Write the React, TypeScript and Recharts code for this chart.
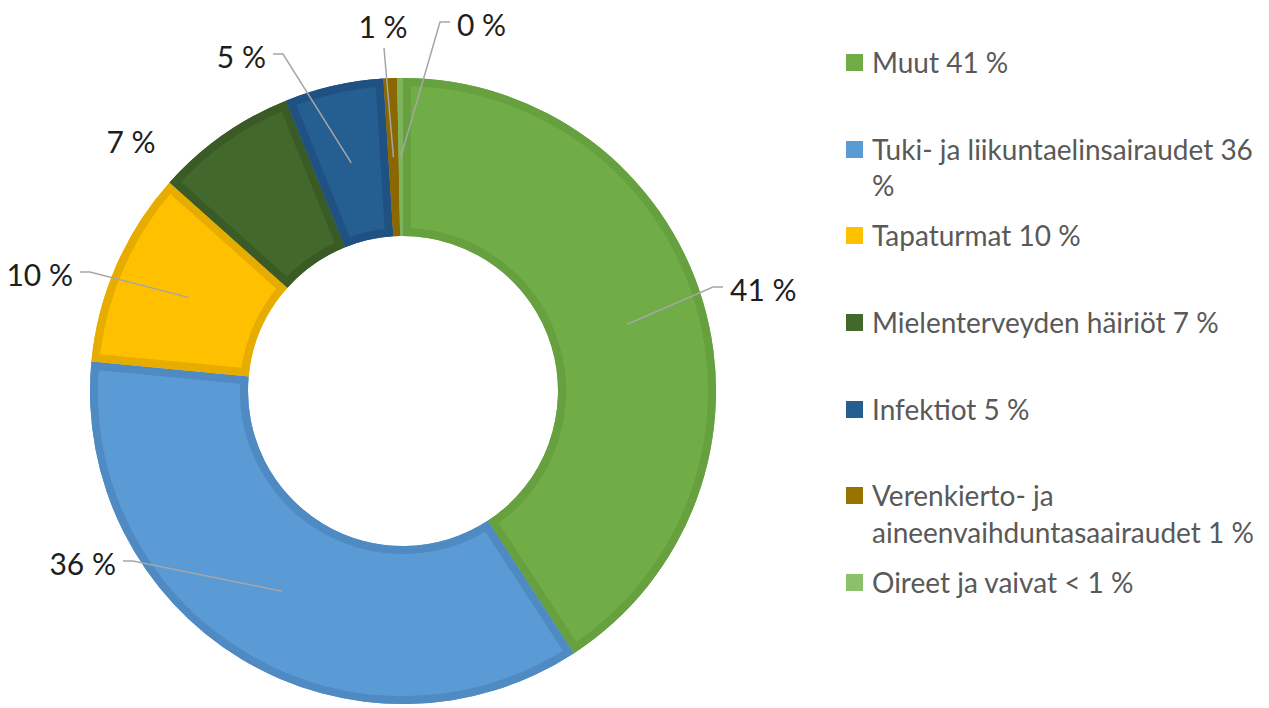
import { PieChart, Pie, Cell, Legend, Sector } from 'recharts';

const CATEGORIES = [
  'Muut',
  'Tuki- ja liikuntaelinsairaudet',
  'Tapaturmat',
  'Mielenterveyden häiriöt',
  'Infektiot',
  'Verenkierto- ja aineenvaihduntasaairaudet',
  'Oireet ja vaivat',
];
const SHARES = [40.8, 35.7, 10.1, 7.3, 5.1, 0.7, 0.3];

const FILLS = ['#70AD47', '#5B9BD5', '#FFC000', '#43682B', '#255E91', '#997300', '#8CC16C'];
const BORDERS = ['#66A03F', '#4F8AC3', '#E6AC00', '#3A5B25', '#1F5183', '#8A6700', '#7DB45C'];

// label elbow, relative to pie centre, and which side the text sits on
const LABEL_LAYOUT: [number, number, string][] = [
  [310, -104, 'right'],
  [-270, 170, 'left'],
  [-313, -119, 'left'],
  [-272, -250, 'none'],
  [-120, -337, 'left'],
  [-19, -343, 'up'],
  [37, -369, 'right'],
];

const FONT = 'Lato, "Open Sans", sans-serif';
const RAD = Math.PI / 180;

const data = CATEGORIES.map((name, i) => ({ name, value: SHARES[i] }));

const pctText = (v: number) => `${Math.round(v)} %`;
const legendPct = (v: number) => (v < 0.5 ? '< 1 %' : pctText(v));

function renderLabel(p: any) {
  const { cx, cy, innerRadius, outerRadius, startAngle, endAngle, midAngle, index, value } = p;
  const [ex, ey, side] = LABEL_LAYOUT[index];
  const mr = (innerRadius + outerRadius) / 2;
  const sx = cx + mr * Math.cos(-midAngle * RAD);
  const sy = cy + mr * Math.sin(-midAngle * RAD);
  const bx = cx + ex;
  const by = cy + ey;
  const clipId = `slice-clip-${index}`;

  let line = null;
  let text = null;
  const textProps = { fontFamily: FONT, fontSize: 30, fill: '#1e1e1e' };
  if (side === 'right' || side === 'left') {
    const dir = side === 'right' ? 1 : -1;
    const hx = bx + dir * 10;
    line = (
      <polyline
        points={`${sx},${sy} ${bx},${by} ${hx},${by}`}
        fill="none"
        stroke="#A6A6A6"
        strokeWidth={1.5}
      />
    );
    text = (
      <text
        x={hx + dir * 7}
        y={by + 2}
        textAnchor={side === 'right' ? 'start' : 'end'}
        dominantBaseline="central"
        {...textProps}
      >
        {pctText(value)}
      </text>
    );
  } else if (side === 'up') {
    line = <polyline points={`${sx},${sy} ${bx},${by}`} fill="none" stroke="#A6A6A6" strokeWidth={1.5} />;
    text = (
      <text x={bx - 1} y={by - 22} textAnchor="middle" dominantBaseline="central" {...textProps}>
        {pctText(value)}
      </text>
    );
  } else {
    text = (
      <text x={bx} y={by} textAnchor="middle" dominantBaseline="central" {...textProps}>
        {pctText(value)}
      </text>
    );
  }

  return (
    <g key={`lbl-${index}`}>
      <defs>
        <clipPath id={clipId}>
          <Sector
            cx={cx}
            cy={cy}
            innerRadius={innerRadius}
            outerRadius={outerRadius}
            startAngle={startAngle}
            endAngle={endAngle}
          />
        </clipPath>
      </defs>
      <g clipPath={`url(#${clipId})`}>
        <Sector
          cx={cx}
          cy={cy}
          innerRadius={innerRadius}
          outerRadius={outerRadius}
          startAngle={startAngle}
          endAngle={endAngle}
          fill="none"
          stroke={BORDERS[index]}
          strokeWidth={16}
        />
      </g>
      {line}
      {text}
    </g>
  );
}

function renderLegend() {
  return (
    <ul style={{ listStyle: 'none', margin: 0, padding: 0, fontFamily: FONT }}>
      {CATEGORIES.map((name, i) => (
        <li key={name} style={{ height: 86.7, display: 'flex', alignItems: 'flex-start' }}>
          <span
            style={{
              width: 17,
              height: 17,
              marginTop: 10,
              background: FILLS[i],
              flex: 'none',
            }}
          />
          <div style={{ marginLeft: 9, width: 395, color: '#595959', fontSize: 28, lineHeight: '36.5px' }}>
            {name} {legendPct(SHARES[i])}
          </div>
        </li>
      ))}
    </ul>
  );
}

export default function App() {
  return (
    <div style={{ position: 'absolute', left: 0, top: 0, width: 1269, height: 708, background: '#fff' }}>
      <PieChart width={1269} height={708} margin={{ top: 0, right: 0, bottom: 0, left: 0 }}>
        <Pie
          data={data}
          dataKey="value"
          nameKey="name"
          cx={403}
          cy={391}
          innerRadius={155}
          outerRadius={313}
          startAngle={90}
          endAngle={-270}
          stroke="none"
          label={renderLabel}
          labelLine={false}
          isAnimationActive={false}
        >
          {data.map((d, i) => (
            <Cell key={d.name} fill={FILLS[i]} />
          ))}
        </Pie>
        <Legend
          layout="vertical"
          align="right"
          verticalAlign="top"
          content={renderLegend}
          wrapperStyle={{ left: 846, top: 44, width: 423, height: 620 }}
        />
      </PieChart>
    </div>
  );
}
